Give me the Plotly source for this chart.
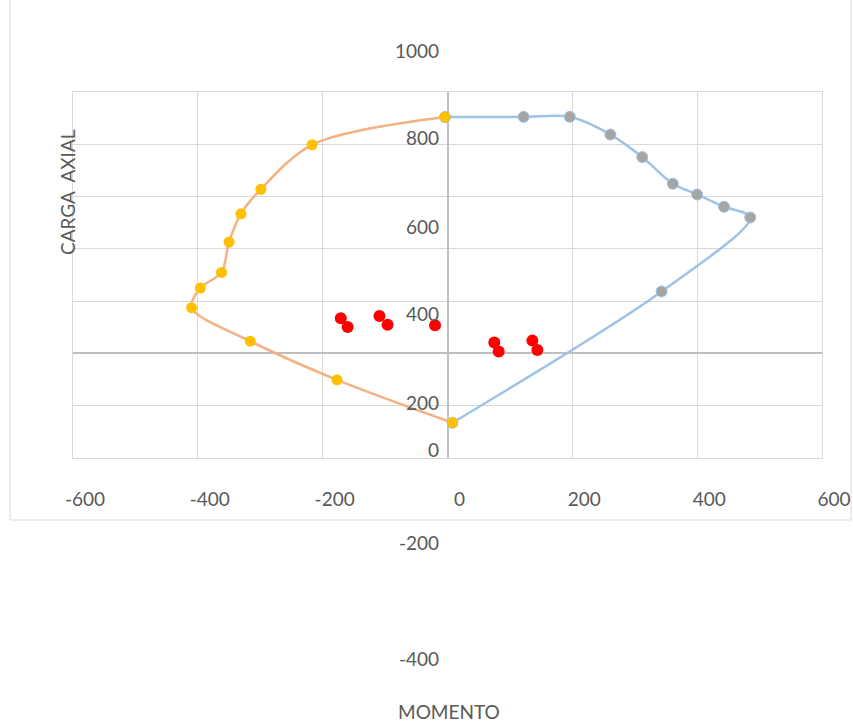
import plotly.graph_objects as go

# Interaction diagram: moment vs axial load
# Negative-moment branch
neg_momento = [-4, -217, -299, -331, -350, -362, -396, -410, -316, -177, 8]
neg_carga = [904, 798, 628, 534, 426, 310, 250, 175, 47, -101, -265]

# Positive-moment branch
pos_momento = [-4, 122, 196, 261, 312, 361, 400, 443, 485, 343, 8]
pos_carga = [904, 905, 905, 837, 751, 649, 608, 561, 520, 237, -265]

# Load cases (demand points)
dem_momento = [-171, -160, -109, -96, -20, 75, 82, 136, 144]
dem_carga = [135, 101, 143, 110, 108, 42, 7, 49, 13]

x_ticks = [-600, -400, -200, 0, 200, 400, 600]
y_ticks = [1000, 800, 600, 400, 200, 0, -200, -400]

W, H = 853, 725
L, R, T, B = 73, 822, 92, 458


def px(x):
    return (x - L) / (R - L)


def py(y):
    return (B - y) / (B - T)


TXT = "#595959"
FONT = "Lato"
FS = 19

fig = go.Figure()

fig.add_trace(go.Scatter(
    x=pos_momento, y=pos_carga, mode="lines+markers",
    line=dict(color="#9DC3E6", width=2.5, shape="spline", smoothing=0.9),
    marker=dict(size=11, color="#A5A5A5", line=dict(color="#9DC3E6", width=1)),
    hoverinfo="x+y",
))
fig.add_trace(go.Scatter(
    x=neg_momento, y=neg_carga, mode="lines+markers",
    line=dict(color="#F4B183", width=2.5, shape="spline", smoothing=0.9),
    marker=dict(size=11, color="#FFC000", line=dict(width=0)),
    hoverinfo="x+y",
))
fig.add_trace(go.Scatter(
    x=dem_momento, y=dem_carga, mode="markers",
    marker=dict(size=12, color="#FF0000", line=dict(width=0)),
    hoverinfo="x+y",
))

# y tick labels sit beside the vertical axis at fixed heights
ylab_pos = [50, 137, 226, 313, 402, 449, 542, 658]
annotations = []
for lab, yp in zip(y_ticks, ylab_pos):
    annotations.append(dict(
        text=str(lab), xref="paper", yref="paper", x=px(441), y=py(yp),
        xanchor="right", yanchor="middle", showarrow=False,
        font=dict(family=FONT, size=FS, color=TXT),
    ))
annotations.append(dict(
    text="CARGA  AXIAL", xref="paper", yref="paper", x=px(67), y=py(192),
    xanchor="center", yanchor="middle", textangle=-90, showarrow=False,
    font=dict(family=FONT, size=FS, color=TXT),
))
annotations.append(dict(
    text="MOMENTO", xref="paper", yref="paper", x=px(449), y=py(711),
    xanchor="center", yanchor="middle", showarrow=False,
    font=dict(family=FONT, size=FS, color=TXT),
))

fig.update_layout(
    width=W, height=H,
    margin=dict(l=L, r=W - R, t=T, b=H - B),
    paper_bgcolor="white", plot_bgcolor="white",
    showlegend=False,
    annotations=annotations,
    shapes=[dict(
        type="rect", xref="paper", yref="paper",
        x0=px(10), x1=px(851), y0=py(520), y1=py(-2),
        line=dict(color="#D9D9D9", width=1), fillcolor="rgba(0,0,0,0)",
        layer="below",
    )],
    xaxis=dict(
        range=[-600, 600], tickmode="array", tickvals=x_ticks,
        ticktext=[str(v) for v in x_ticks], automargin=False,
        showgrid=True, gridcolor="#D9D9D9", gridwidth=1.3,
        zeroline=True, zerolinecolor="#BFBFBF", zerolinewidth=1.5,
        showline=True, mirror=True, linecolor="#D9D9D9", linewidth=1.3,
        ticks="", ticklabelstandoff=24, ticklabelshift=12,
        tickfont=dict(family=FONT, size=FS, color=TXT),
    ),
    yaxis=dict(
        range=[-400, 1000], tickmode="array", tickvals=y_ticks,
        showticklabels=False, automargin=False,
        showgrid=True, gridcolor="#D9D9D9", gridwidth=1.3,
        zeroline=True, zerolinecolor="#BFBFBF", zerolinewidth=1.5,
        showline=True, mirror=True, linecolor="#D9D9D9", linewidth=1.3,
        ticks="",
    ),
)

fig.write_html("out.html")
